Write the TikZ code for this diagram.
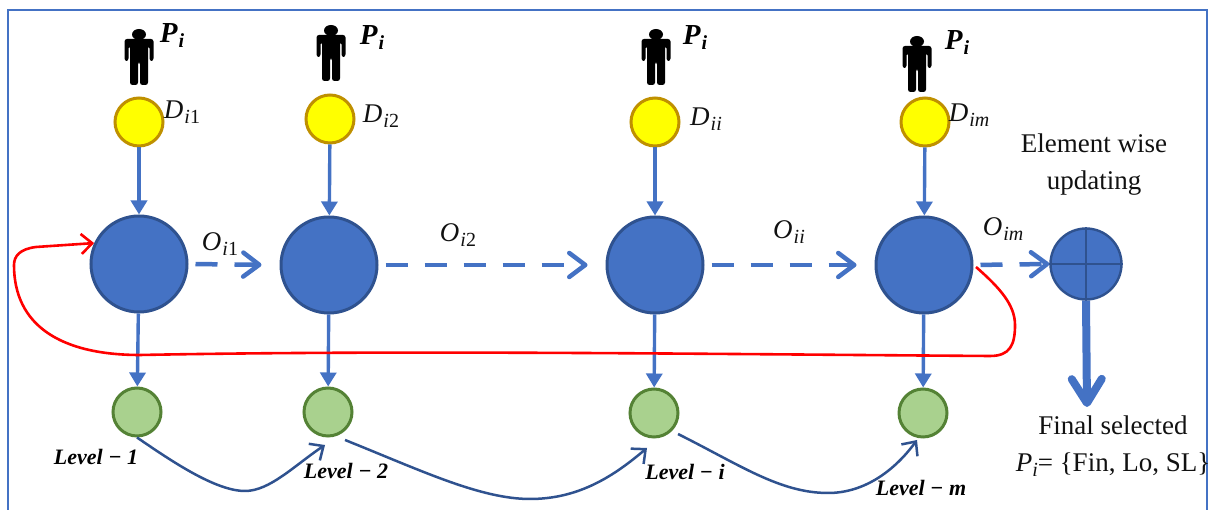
\documentclass[tikz,border=0pt]{standalone}
\usepackage{amsmath}
\usepackage{fontspec}
\setmainfont{Liberation Serif}
\usetikzlibrary{arrows.meta, positioning}
\definecolor{blueA}{HTML}{4472C4}
\definecolor{blueB}{HTML}{2F528F}
\definecolor{yellowA}{HTML}{FFFF00}
\definecolor{yellowB}{HTML}{BF9000}
\definecolor{greenA}{HTML}{A9D18E}
\definecolor{greenB}{HTML}{548235}
\definecolor{ink}{HTML}{111111}
\tikzset{
  yellowdot/.style={circle, draw=yellowB, fill=yellowA, line width=3pt, minimum size=48pt, inner sep=0pt},
  bluedot/.style={circle, draw=blueB, fill=blueA, line width=3pt, minimum size=96pt, inner sep=0pt},
  greendot/.style={circle, draw=greenB, fill=greenA, line width=3pt, minimum size=48pt, inner sep=0pt},
  plusdot/.style={circle, draw=blueB, fill=blueA, line width=2.4pt, minimum size=71pt, inner sep=0pt},
  flow/.style={draw=blueA, line width=3.4pt, -{Triangle[length=14pt,width=16pt]}},
  dashflow/.style={draw=blueA, line width=4.5pt, dash pattern=on 22pt off 17pt, -{Straight Barb[length=16pt,width=24pt,round]}, shorten <=7pt, shorten >=18pt},
  hop/.style={draw=blueB, line width=2.5pt, -{Straight Barb[length=11pt,width=20pt]}},
  symb/.style={font=\fontsize{27}{29}\selectfont, text=ink, inner sep=0pt},
  boldsymb/.style={font=\fontsize{29}{31}\selectfont\bfseries\itshape, text=black, inner sep=0pt},
  levelname/.style={font=\fontsize{22}{24}\selectfont\bfseries\itshape, text=black, inner sep=0pt},
  body/.style={font=\fontsize{27}{37}\selectfont, text=ink, align=center, inner sep=0pt},
  person/.pic={
    \fill[black] (0,-5.5) ellipse (7pt and 5.5pt);
    \fill[black, rounded corners=2.5pt] (-14.5,-32) -- (-14.5,-10) -- (14.5,-10) -- (14.5,-32) -- (10.5,-32) -- (10.5,-17) -- (9,-17) -- (9,-56) -- (1,-56) -- (1,-33) -- (-1,-33) -- (-1,-56) -- (-9,-56) -- (-9,-17) -- (-10.5,-17) -- (-10.5,-32) -- cycle;
  }
}
\newcommand{\withsub}[2]{\textit{#1}\kern1pt\raisebox{-5pt}{\fontsize{20}{20}\selectfont #2}}

\begin{document}
\begin{tikzpicture}[x=1pt,y=1pt]
\useasboundingbox (0,0) rectangle (1208,510);

\draw[blueA, line width=2pt] (8,-5) -- (8,500) -- (1207,500) -- (1207,-5);

\pic at (139,481) {person};
\pic at (331,485) {person};
\pic at (656,481) {person};
\pic at (917,474) {person};

\node[boldsymb] (p1) at (172,474) {\withsub{P}{i}};
\node[boldsymb] (p2) at (372,472) {\withsub{P}{i}};
\node[boldsymb] (p3) at (695,472) {\withsub{P}{i}};
\node[boldsymb] (p4) at (957,467) {\withsub{P}{i}};

\node[yellowdot] (d1) at (139,388) {};
\node[yellowdot] (d2) at (330,391) {};
\node[yellowdot] (d3) at (655,388) {};
\node[yellowdot] (d4) at (925,388) {};

\node[symb] (dl1) at (182,398) {\withsub{D}{\textit{i}1}};
\node[symb] (dl2) at (381,394) {\withsub{D}{\textit{i}2}};
\node[symb] (dl3) at (706,391) {\withsub{D}{\textit{ii}}};
\node[symb] (dl4) at (969,395) {\withsub{D}{\textit{im}}};

\node[bluedot] (b1) at (139,246) {};
\node[bluedot] (b2) at (329,245) {};
\node[bluedot] (b3) at (655,245) {};
\node[bluedot] (b4) at (924,245) {};

\node[plusdot] (plus) at (1086,246) {};
\draw[blueB, line width=2.4pt] (plus.north) -- (plus.south);
\draw[blueB, line width=2.4pt] (plus.west) -- (plus.east);

\node[greendot] (g1) at (137,98) {};
\node[greendot] (g2) at (328,98) {};
\node[greendot] (g3) at (654,97) {};
\node[greendot] (g4) at (923,97) {};

\node[levelname] (l1) at (96,53) {Level − 1};
\node[levelname] (l2) at (346,39) {Level − 2};
\node[levelname] (l3) at (685,38) {Level − i};
\node[levelname] (l4) at (921,22) {Level − m};

\node[symb] (o1) at (220,266) {\withsub{O}{\textit{i}1}};
\node[symb] (o2) at (458,275) {\withsub{O}{\textit{i}2}};
\node[symb] (o3) at (789,278) {\withsub{O}{\textit{ii}}};
\node[symb] (o4) at (1003,281) {\withsub{O}{\textit{im}}};

\node[body] (elem) at (1094,345) {Element wise\\updating};
\node[body] (final) at (1113,64) {Final selected\\\textit{P}\raisebox{-5pt}{\fontsize{20}{20}\selectfont\textit{i}}= \{Fin, Lo, SL\}};

\foreach \i in {1,2,3,4} {
  \draw[flow] (d\i) -- (b\i);
  \draw[flow] (b\i) -- (g\i);
}

\draw[dashflow] (b1.east) -- (b2.west);
\draw[dashflow] (b2.east) -- (b3.west);
\draw[dashflow] (b3.east) -- (b4.west);
\draw[dashflow, shorten >=0pt] (b4.east) -- (plus.west);

\draw[blueA, line width=8pt, -{Straight Barb[length=24pt,width=30pt,round]}] (plus.south) -- (1087,103);

\draw[red, line width=2.6pt, -{Straight Barb[length=11pt,width=20pt]}] (976,243)
  .. controls (1000,222) and (1015,205) .. (1015,185)
  .. controls (1015,165) and (1010,154) .. (990,154)
  .. controls (700,156) and (400,160) .. (140,155)
  .. controls (60,155) and (14,185) .. (14,245)
  .. controls (14,254) and (20,261) .. (36,263)
  -- (b1.155);

\draw[hop] (g1.south) .. controls (170,50) and (215,19) .. (245,19)
  .. controls (270,19) and (295,45) .. (325,65);
\draw[hop] (345,70) .. controls (420,40) and (480,11) .. (530,11)
  .. controls (580,11) and (615,35) .. (647,62);
\draw[hop] (678,76) .. controls (740,45) and (780,17) .. (828,17)
  .. controls (865,17) and (895,40) .. (917,70);
\end{tikzpicture}
\end{document}
